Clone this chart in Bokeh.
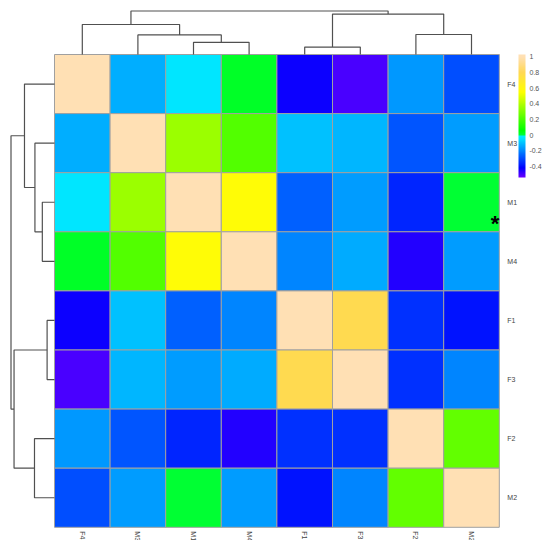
import numpy as np
from bokeh.plotting import figure
from bokeh.models import (ColumnDataSource, LinearColorMapper, ColorBar, FixedTicker,
                          Range1d, CustomJSTickFormatter)
from bokeh.transform import transform
from bokeh.core.properties import value
from bokeh.embed import file_html
from bokeh.resources import INLINE

# ---------------- data ----------------
labels = ["F4", "M3", "M1", "M4", "F1", "F3", "F2", "M2"]

row_F4 = [1.00, -0.13, -0.04, 0.02, -0.43, -0.50, -0.17, -0.29]
row_M3 = [-0.13, 1.00, 0.36, 0.22, -0.10, -0.12, -0.28, -0.16]
row_M1 = [-0.04, 0.36, 1.00, 0.57, -0.26, -0.16, -0.36, 0.01]
row_M4 = [0.02, 0.22, 0.57, 1.00, -0.20, -0.14, -0.46, -0.16]
row_F1 = [-0.43, -0.10, -0.26, -0.20, 1.00, 0.79, -0.34, -0.39]
row_F3 = [-0.50, -0.12, -0.16, -0.14, 0.79, 1.00, -0.34, -0.20]
row_F2 = [-0.17, -0.28, -0.36, -0.46, -0.34, -0.34, 1.00, 0.25]
row_M2 = [-0.29, -0.16, 0.01, -0.16, -0.39, -0.20, 0.25, 1.00]
matrix = [row_F4, row_M3, row_M1, row_M4, row_F1, row_F3, row_F2, row_M2]

# hierarchical clustering merges: (child a, child b, relative height)
merge_a = ["F1", "M1", "M3", "F2", "F4", "n1", "n5"]
merge_b = ["F3", "M4", "n2", "M2", "n3", "n4", "n6"]
merge_h = [0.17, 0.28, 0.45, 0.46, 0.69, 0.93, 1.00]

colorbar_ticks = [-0.4, -0.2, 0, 0.2, 0.4, 0.6, 0.8, 1.0]
marked_rows = ["M1"]
marked_text = ["*"]

# ---------------- layout / style ----------------
W, H = 542, 540
PX0, PY0 = 54, 54                  # heatmap top-left inside the canvas
CW, CH = 55.6, 59.1                # cell size in px
TREE_PX = 43.5
LOW, HIGH = -0.54, 1.03

stops_v = [-0.54, -0.42, -0.04, -0.003, 0.0, 0.06, 0.55, 0.80, 1.00, 1.03]
stops_c = [(110, 0, 255), (0, 0, 255), (0, 230, 255), (0, 238, 255), (0, 255, 60),
           (0, 255, 0), (255, 255, 0), (255, 216, 84), (255, 224, 180), (255, 224, 180)]
N = 256
vs = LOW + (np.arange(N) + 0.5) / N * (HIGH - LOW)
sc = np.array(stops_c, dtype=float)
palette = []
for v in vs:
    r, g, b = (int(round(np.interp(v, stops_v, sc[:, k]))) for k in range(3))
    palette.append("#%02x%02x%02x" % (r, g, b))
mapper = LinearColorMapper(palette=palette, low=LOW, high=HIGH)

p = figure(width=W, height=H, output_backend="svg", toolbar_location=None,
           x_axis_location=None, y_axis_location=None, min_border=0,
           x_range=Range1d(-PX0 / CW, (W - PX0) / CW),
           y_range=Range1d((H - PY0) / CH, -PY0 / CH))
p.outline_line_color = None
p.grid.visible = False
p.background_fill_color = "white"

n = len(labels)
xs, ys, vals = [], [], []
for i, row in enumerate(matrix):
    for j, v in enumerate(row):
        xs.append(j + 0.5)
        ys.append(i + 0.5)
        vals.append(v)
src = ColumnDataSource(dict(x=xs, y=ys, v=vals))
p.rect(x="x", y="y", width=1, height=1, source=src,
       fill_color=transform("v", mapper), line_color="#a0a0a0", line_width=1)

# dendrograms
pos = {lab: i + 0.5 for i, lab in enumerate(labels)}
hgt = {lab: 0.0 for lab in labels}
seg_pos, seg_h = [], []
for k, (a, b, h) in enumerate(zip(merge_a, merge_b, merge_h)):
    xa, xb = pos[a], pos[b]
    seg_pos.append([xa, xa, xb, xb])
    seg_h.append([hgt[a], h, h, hgt[b]])
    pos["n%d" % (k + 1)] = (xa + xb) / 2
    hgt["n%d" % (k + 1)] = h

top_xs = seg_pos
top_ys = [[-hh * TREE_PX / CH for hh in s] for s in seg_h]
left_xs = [[-hh * TREE_PX / CW for hh in s] for s in seg_h]
left_ys = seg_pos
p.multi_line(xs=top_xs, ys=top_ys, line_color="#505050", line_width=1.2)
p.multi_line(xs=left_xs, ys=left_ys, line_color="#505050", line_width=1.2)

# labels
lab_font = value("Liberation Sans")
p.text(x=[n + 8 / CW] * n, y=[i + 0.5 for i in range(n)], text=labels,
       text_font=lab_font, text_font_size="7px", text_color="#444444",
       text_align="left", text_baseline="middle")
p.text(x=[i + 0.5 for i in range(n)], y=[n + 4 / CH] * n, text=labels,
       angle=-np.pi / 2, text_font=lab_font, text_font_size="7px", text_color="#444444",
       text_align="left", text_baseline="middle")

# marker
p.text(x=[n] * len(marked_rows), y=[labels.index(r) + 1.07 for r in marked_rows],
       text=marked_text, text_font=value("Liberation Sans"), text_font_style="bold",
       text_font_size="22px", text_color="black", text_align="right",
       text_baseline="bottom")

cb = ColorBar(color_mapper=mapper, location=(518, H - 177), width=7, height=123,
              padding=0, margin=0, border_line_color=None, bar_line_color=None,
              background_fill_color=None, major_tick_line_color=None,
              minor_tick_line_color=None, label_standoff=4,
              ticker=FixedTicker(ticks=colorbar_ticks),
              formatter=CustomJSTickFormatter(code="return String(Math.round(tick*10)/10);"),
              major_label_text_font_size="7px", major_label_text_color="#555555",
              major_label_text_font="Liberation Sans")
p.add_layout(cb, "center")

open("out.html", "w").write(file_html(p, INLINE))
